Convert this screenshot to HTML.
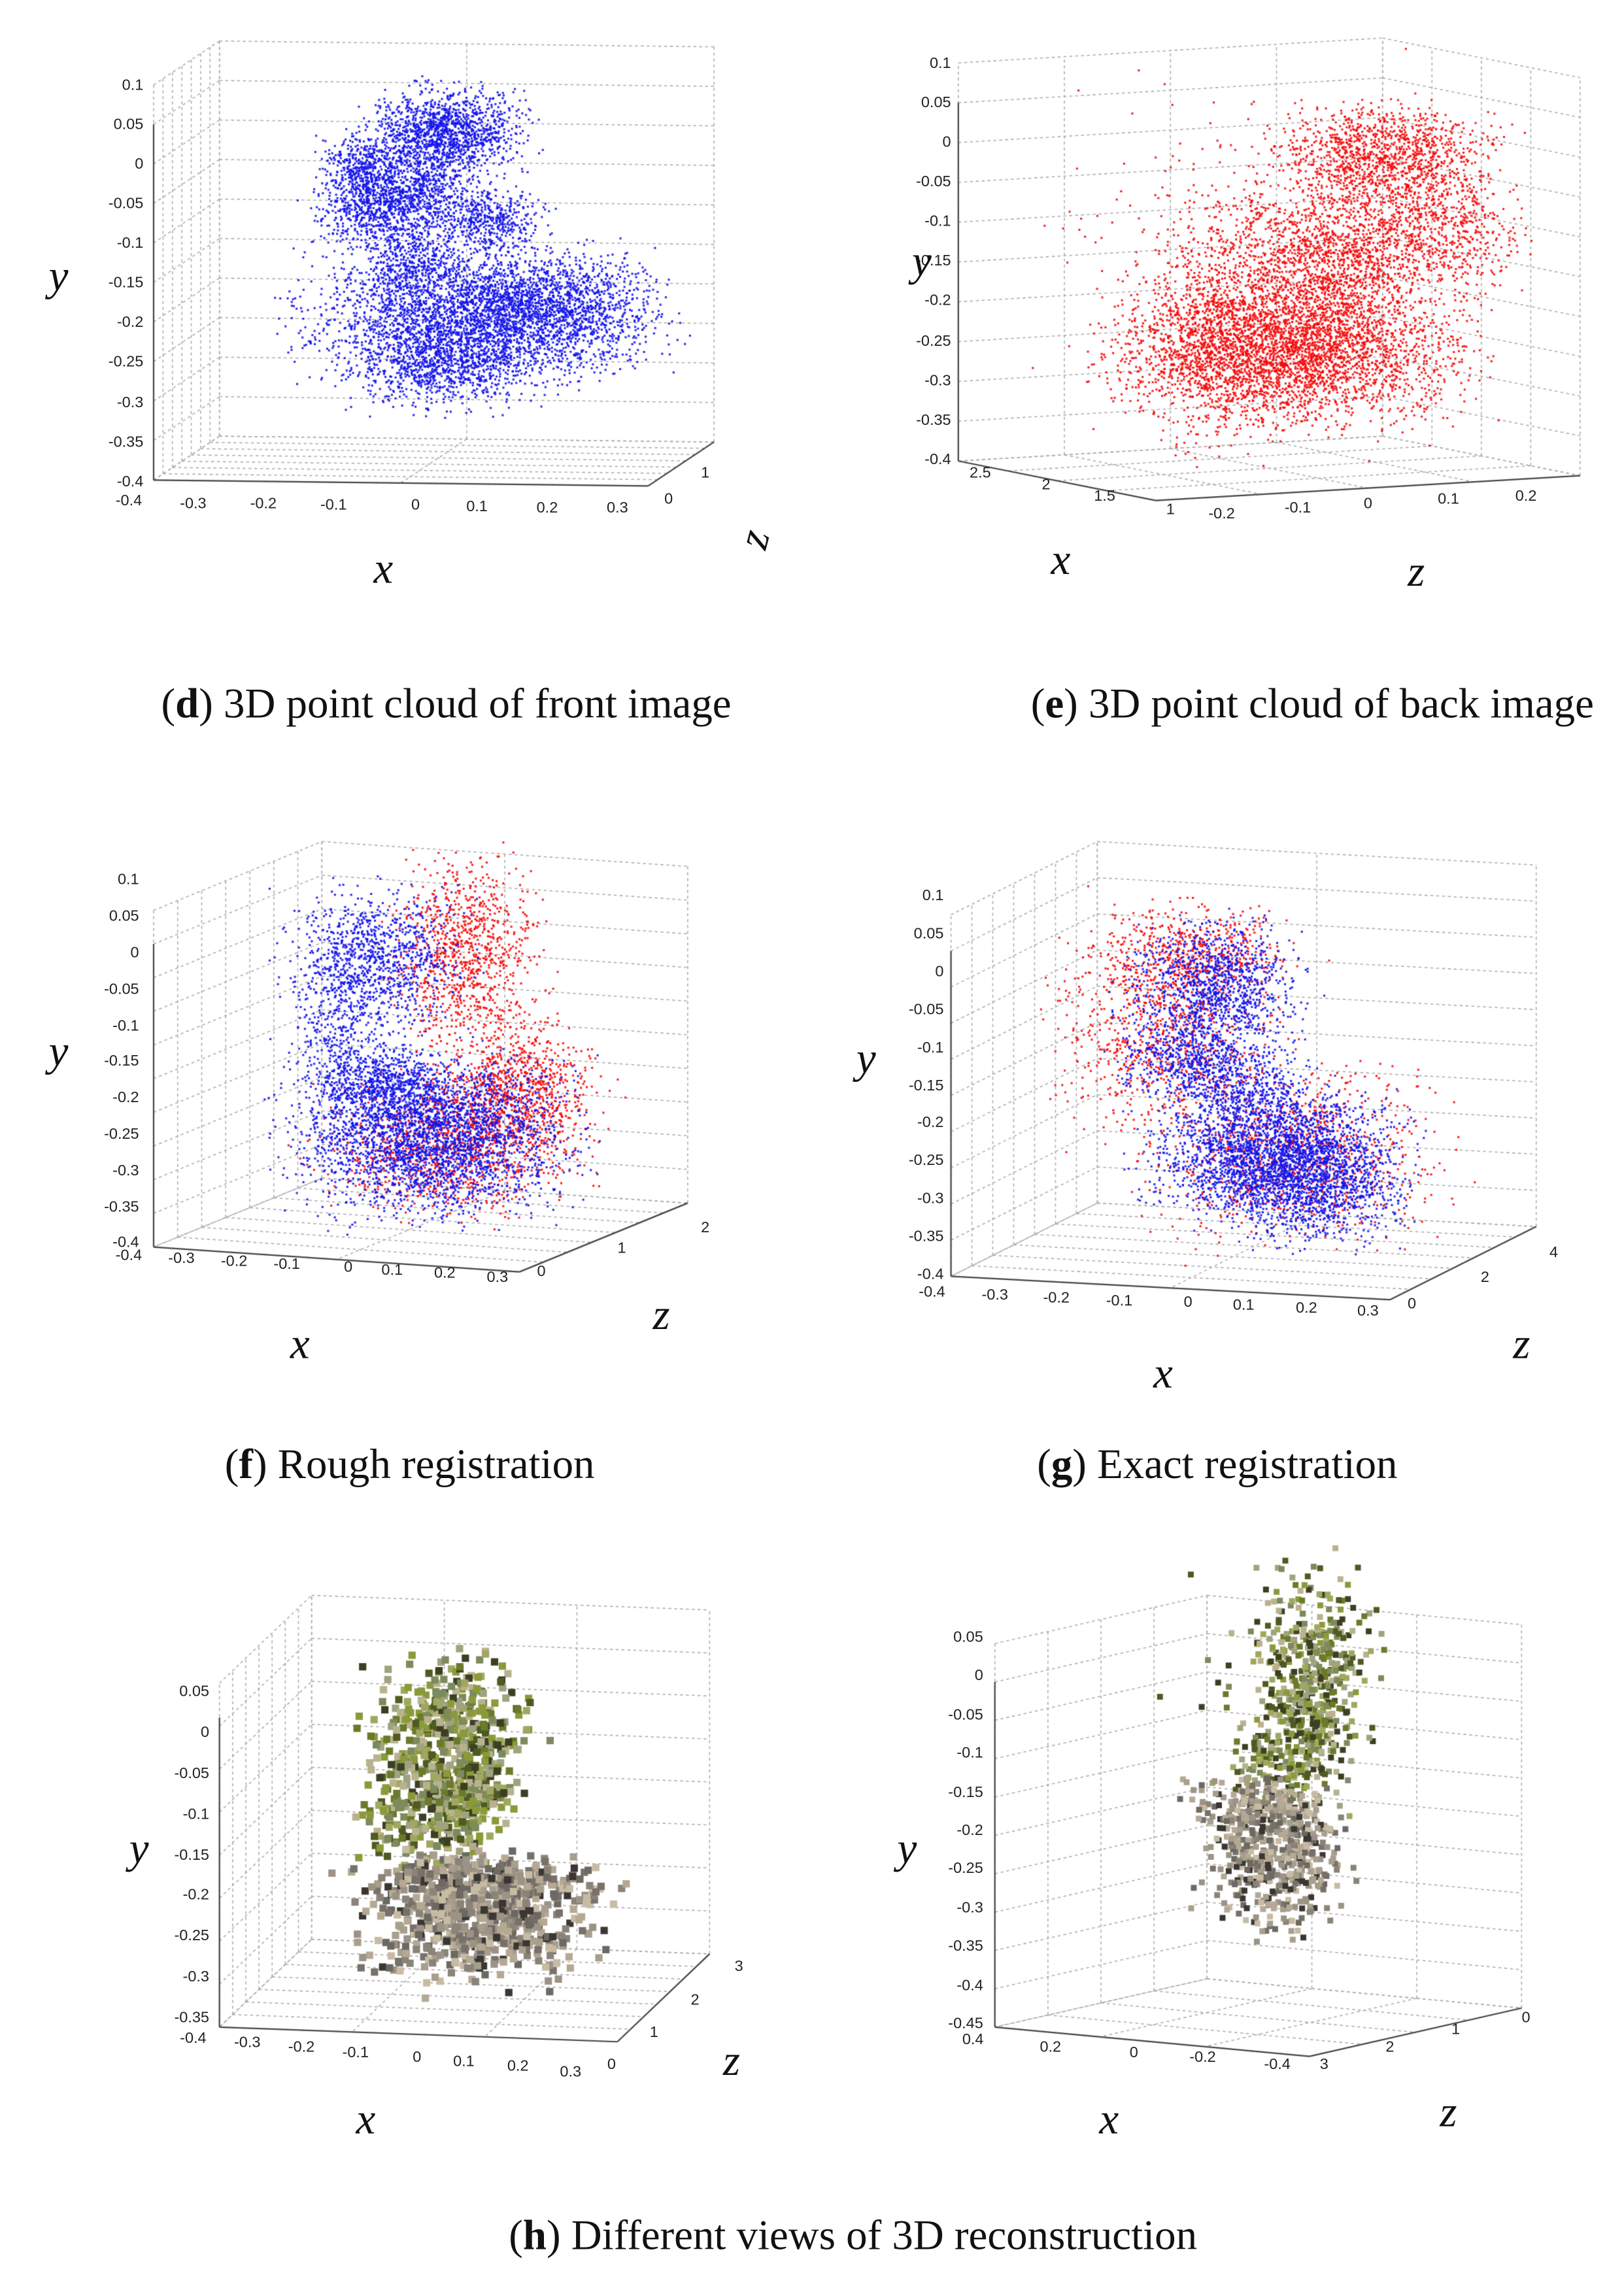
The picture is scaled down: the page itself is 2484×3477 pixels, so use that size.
<!DOCTYPE html>
<html><head><meta charset="utf-8">
<style>
html,body{margin:0;padding:0;background:#fff;}
#wrap{position:relative;width:2484px;height:3477px;overflow:hidden;}
canvas,svg{position:absolute;left:0;top:0;}
.t{font-family:"Liberation Sans",sans-serif;font-size:10.5px;fill:#222;}
.r{text-anchor:end;}
.m{text-anchor:middle;}
.ax{font-family:"Liberation Serif",serif;font-style:italic;font-size:30px;fill:#111;text-anchor:middle;}
.cap{font-family:"Liberation Serif",serif;font-size:29px;fill:#111;text-anchor:middle;}
</style></head><body>
<div id="wrap">
<canvas id="c" width="2484" height="3477"></canvas>
<svg width="2484" height="3477" viewBox="0 0 1110 1553">
<g class="t r">
<text x="98" y="61">0.1</text><text x="98" y="88">0.05</text><text x="98" y="115">0</text><text x="98" y="142">-0.05</text><text x="98" y="169">-0.1</text><text x="98" y="196">-0.15</text><text x="98" y="223">-0.2</text><text x="98" y="250">-0.25</text><text x="98" y="278">-0.3</text><text x="98" y="305">-0.35</text><text x="98" y="332">-0.4</text>
</g>
<g class="t m">
<text x="88" y="345">-0.4</text><text x="132" y="347">-0.3</text><text x="180" y="347">-0.2</text><text x="228" y="348">-0.1</text><text x="284" y="348">0</text><text x="326" y="349">0.1</text><text x="374" y="350">0.2</text><text x="422" y="350">0.3</text>
<text x="457" y="344">0</text><text x="482" y="326">1</text>
</g>
<text class="ax" x="40" y="198">y</text><text class="ax" x="262" y="398">x</text><text class="ax" x="515" y="378" transform="rotate(-75 515 368)">z</text>
<text class="cap" x="305" y="490">(<tspan font-weight="bold">d</tspan>) 3D point cloud of front image</text>

<g class="t r">
<text x="650" y="46">0.1</text><text x="650" y="73">0.05</text><text x="650" y="100">0</text><text x="650" y="127">-0.05</text><text x="650" y="154">-0.1</text><text x="650" y="181">-0.15</text><text x="650" y="208">-0.2</text><text x="650" y="236">-0.25</text><text x="650" y="263">-0.3</text><text x="650" y="290">-0.35</text><text x="650" y="317">-0.4</text>
</g>
<g class="t m">
<text x="670" y="326">2.5</text><text x="715" y="334">2</text><text x="755" y="342">1.5</text><text x="800" y="351">1</text>
<text x="835" y="354">-0.2</text><text x="887" y="350">-0.1</text><text x="935" y="347">0</text><text x="990" y="344">0.1</text><text x="1043" y="342">0.2</text>
</g>
<text class="ax" x="630" y="188">y</text><text class="ax" x="725" y="392">x</text><text class="ax" x="968" y="400">z</text>
<text class="cap" x="897" y="490">(<tspan font-weight="bold">e</tspan>) 3D point cloud of back image</text>

<g class="t r">
<text x="95" y="604">0.1</text><text x="95" y="629">0.05</text><text x="95" y="654">0</text><text x="95" y="679">-0.05</text><text x="95" y="704">-0.1</text><text x="95" y="728">-0.15</text><text x="95" y="753">-0.2</text><text x="95" y="778">-0.25</text><text x="95" y="803">-0.3</text><text x="95" y="828">-0.35</text><text x="95" y="852">-0.4</text>
</g>
<g class="t m">
<text x="88" y="861">-0.4</text><text x="124" y="863">-0.3</text><text x="160" y="865">-0.2</text><text x="196" y="867">-0.1</text><text x="238" y="869">0</text><text x="268" y="871">0.1</text><text x="304" y="873">0.2</text><text x="340" y="876">0.3</text>
<text x="370" y="872">0</text><text x="425" y="856">1</text><text x="482" y="842">2</text>
</g>
<text class="ax" x="40" y="728">y</text><text class="ax" x="205" y="928">x</text><text class="ax" x="452" y="908">z</text>
<text class="cap" x="280" y="1010">(<tspan font-weight="bold">f</tspan>) Rough registration</text>

<g class="t r">
<text x="645" y="615">0.1</text><text x="645" y="641">0.05</text><text x="645" y="667">0</text><text x="645" y="693">-0.05</text><text x="645" y="719">-0.1</text><text x="645" y="745">-0.15</text><text x="645" y="770">-0.2</text><text x="645" y="796">-0.25</text><text x="645" y="822">-0.3</text><text x="645" y="848">-0.35</text><text x="645" y="874">-0.4</text>
</g>
<g class="t m">
<text x="637" y="886">-0.4</text><text x="680" y="888">-0.3</text><text x="722" y="890">-0.2</text><text x="765" y="892">-0.1</text><text x="812" y="893">0</text><text x="850" y="895">0.1</text><text x="893" y="897">0.2</text><text x="935" y="899">0.3</text>
<text x="965" y="894">0</text><text x="1015" y="876">2</text><text x="1062" y="859">4</text>
</g>
<text class="ax" x="592" y="733">y</text><text class="ax" x="795" y="948">x</text><text class="ax" x="1040" y="928">z</text>
<text class="cap" x="832" y="1010">(<tspan font-weight="bold">g</tspan>) Exact registration</text>

<g class="t r">
<text x="143" y="1159">0.05</text><text x="143" y="1187">0</text><text x="143" y="1215">-0.05</text><text x="143" y="1243">-0.1</text><text x="143" y="1271">-0.15</text><text x="143" y="1298">-0.2</text><text x="143" y="1326">-0.25</text><text x="143" y="1354">-0.3</text><text x="143" y="1382">-0.35</text>
</g>
<g class="t m">
<text x="132" y="1396">-0.4</text><text x="169" y="1399">-0.3</text><text x="206" y="1402">-0.2</text><text x="243" y="1406">-0.1</text><text x="285" y="1409">0</text><text x="317" y="1412">0.1</text><text x="354" y="1415">0.2</text><text x="390" y="1419">0.3</text>
<text x="418" y="1414">0</text><text x="447" y="1392">1</text><text x="475" y="1370">2</text><text x="505" y="1347">3</text>
</g>
<text class="ax" x="95" y="1273">y</text><text class="ax" x="250" y="1458">x</text><text class="ax" x="500" y="1418">z</text>

<g class="t r">
<text x="672" y="1122">0.05</text><text x="672" y="1148">0</text><text x="672" y="1175">-0.05</text><text x="672" y="1201">-0.1</text><text x="672" y="1228">-0.15</text><text x="672" y="1254">-0.2</text><text x="672" y="1280">-0.25</text><text x="672" y="1307">-0.3</text><text x="672" y="1333">-0.35</text><text x="672" y="1360">-0.4</text><text x="672" y="1386">-0.45</text>
</g>
<g class="t m">
<text x="665" y="1397">0.4</text><text x="718" y="1402">0.2</text><text x="775" y="1406">0</text><text x="822" y="1409">-0.2</text><text x="873" y="1414">-0.4</text>
<text x="905" y="1414">3</text><text x="950" y="1402">2</text><text x="995" y="1390">1</text><text x="1043" y="1382">0</text>
</g>
<text class="ax" x="620" y="1273">y</text><text class="ax" x="758" y="1458">x</text><text class="ax" x="990" y="1453">z</text>

<text class="cap" x="583" y="1537">(<tspan font-weight="bold">h</tspan>) Different views of 3D reconstruction</text>
</svg>
</div>
<script>
(function(){
var cv=document.getElementById('c'),ctx=cv.getContext('2d');
ctx.scale(2484/1110,3477/1553);
var s=12345;function rnd(){s|=0;s=s+0x6D2B79F5|0;var t=Math.imul(s^s>>>15,1|s);t=t+Math.imul(t^t>>>7,61|t)^t;return((t^t>>>14)>>>0)/4294967296;}
function g(){return (rnd()+rnd()+rnd()-1.5)/0.5;}
function line(a,b,dash,col,w){ctx.beginPath();ctx.setLineDash(dash);ctx.strokeStyle=col;ctx.lineWidth=w;ctx.moveTo(a[0],a[1]);ctx.lineTo(b[0],b[1]);ctx.stroke();}
function L(p,q,t){return [p[0]+(q[0]-p[0])*t,p[1]+(q[1]-p[1])*t];}
function up(p,h){return [p[0],p[1]-h];}
function box(K,P1,P2,H,n1,n2,ny){
 var Q=[P1[0]+P2[0]-K[0],P1[1]+P2[1]-K[1]];
 var d=[2,2],c='#aaa';
 for(var i=0;i<=n1;i++){var t=i/n1;line(L(K,P1,t),L(P2,Q,t),d,c,0.7);}
 for(var i=0;i<=n2;i++){var t=i/n2;line(L(K,P2,t),L(P1,Q,t),d,c,0.7);}
 for(var i=0;i<=n1;i++){var p=L(K,P1,i/n1);line(p,up(p,H),d,c,0.7);}
 for(var i=0;i<=n2;i++){var p=L(K,P2,i/n2);line(p,up(p,H),d,c,0.7);}
 for(var j=0;j<=ny;j++){var h=H*j/ny;line(up(P1,h),up(K,h),d,c,0.7);line(up(K,h),up(P2,h),d,c,0.7);}
 line(P1,Q,[],'#444',1);line(Q,P2,[],'#444',1);line(P1,up(P1,H*0.9),[],'#444',1);
}
box([150,298],[105,328],[488,302],270,7,2,10);
box([945,298],[655,315],[1080,325],272,4,4,10);
box([220,805],[105,852],[470,822],230,7,2,10);
box([750,822],[650,872],[1050,838],247,7,2,10);
box([213,1325],[150,1385],[485,1335],235,7,3,8);
box([825,1352],[680,1385],[1040,1372],262,4,3,10);
var K=0.75;
function cloud(cl,col,sz){ctx.fillStyle=col;for(var k=0;k<cl.length;k++){var q=cl[k];for(var i=0;i<q[4]*1.3;i++){var x=q[0]+g()*q[2]*K,y=q[1]+g()*q[3]*K;ctx.fillRect(x,y,sz,sz);}}}
cloud([[305,88,32,18,900],[262,140,28,18,700],[335,150,22,14,350],[245,112,15,12,250],[290,120,25,25,500],[330,215,70,28,2600],[300,250,38,18,600],[380,205,35,20,400],[280,180,20,15,300]],'rgba(20,20,235,0.9)',1.4);
cloud([[945,108,45,22,1000],[920,165,55,22,800],[990,160,30,25,300],[880,240,70,30,2600],[830,220,30,50,500],[860,170,80,70,300],[900,200,40,20,400]],'rgba(245,10,10,0.9)',1.4);
cloud([[318,650,30,38,700],[350,745,35,30,700],[305,785,50,28,700]],'rgba(245,10,10,0.9)',1.4);
cloud([[255,655,35,30,800],[232,720,18,35,300],[295,775,55,32,2200],[265,740,25,15,400]],'rgba(20,20,235,0.9)',1.4);
cloud([[795,700,45,45,700],[885,790,60,35,700],[820,650,40,20,300]],'rgba(245,10,10,0.9)',1.4);
cloud([[830,675,35,28,900],[815,725,30,15,400],[850,745,30,15,300],[872,790,50,25,2000],[900,820,35,20,400]],'rgba(20,20,235,0.9)',1.4);
function pc(cl,cols,r){for(var k=0;k<cl.length;k++){var q=cl[k];for(var i=0;i<q[4]*1.5;i++){ctx.fillStyle=cols[Math.floor(rnd()*cols.length)];ctx.fillRect(q[0]+g()*q[2]*0.75,q[1]+g()*q[3]*0.75,r,r);}}}
var green=['#6b7a2a','#8a9a3a','#4e5a22','#a0a860','#7c8a5c','#9fa37f','#3c3f22','#b9b28e'];
var pot=['#8a8378','#9c9386','#77716a','#b6a994','#6c6862','#c8bba4','#a89e8d','#3a3632'];
pc([[305,1180,32,30,260],[295,1235,28,25,180],[325,1220,15,15,60]],green,5);
pc([[328,1310,45,25,420],[330,1280,50,10,120]],pot,5);
pc([[895,1140,25,40,260],[880,1200,22,25,120],[860,1180,40,60,40]],green,4);
pc([[870,1265,28,30,320],[860,1232,30,12,100]],pot,4);
})();
</script>
</body></html>
